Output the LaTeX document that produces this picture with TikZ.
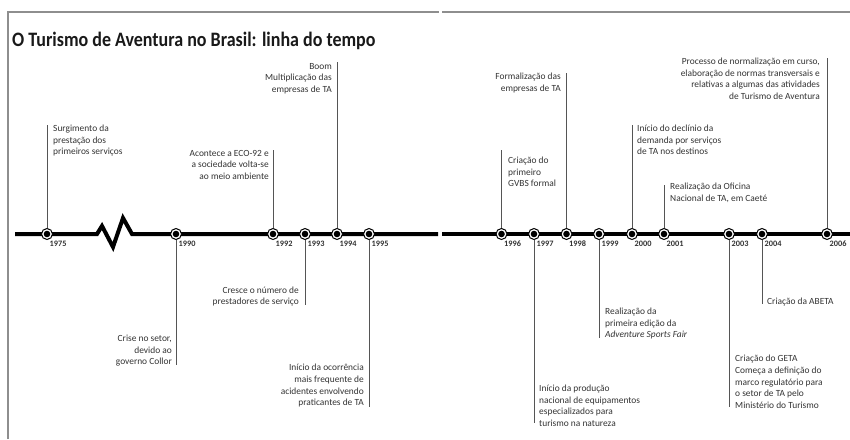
\documentclass[tikz,border=0pt]{standalone}
\usepackage{fontspec}
\setmainfont{Carlito}
\usetikzlibrary{calc}
\definecolor{txt}{HTML}{333333}
\definecolor{lead}{HTML}{555555}
\definecolor{framec}{HTML}{8E8E8E}
\begin{document}
\begin{tikzpicture}[x=1pt,y=-1pt,
  lbl/.style={font=\fontsize{9.4}{11.6}\selectfont, text=txt, inner sep=0pt, align=#1},
  yearlbl/.style={font=\fontsize{8.3}{9}\selectfont\bfseries, text=txt, inner sep=0pt, anchor=base west},
  marker/.style={circle, draw=black, line width=1pt, fill=white, minimum size=11pt, inner sep=0pt,
    path picture={\fill[black] (path picture bounding box.center) circle (3.3pt);}},
  leader/.style={draw=lead, line width=0.8pt},
  tline/.style={draw=black, line width=4pt, line join=miter},
  framel/.style={draw=framec, line width=1.2pt}]
\useasboundingbox (0,0) rectangle (850,439);
% frame
\draw[framel] (8,439) -- (8,12) -- (439,12);
\draw[framel] (442,12) -- (850,12);
% title
\node[anchor=base west, inner sep=0pt, font=\fontsize{20.5}{21}\selectfont\bfseries, text=black!90] (title) at (12,46) {\scalebox{0.877}[1]{O Turismo de Aventura no Brasil: linha do tempo}};
% timeline
\draw[tline] (15,234) -- (97,234) -- (102,226) -- (113,247) -- (123,218) -- (132,234) -- (438,234);
\draw[tline] (442,234) -- (850,234);
% markers and years
\foreach \yr/\xx in {1975/47,1990/176,1992/273,1993/305,1994/337,1995/369,1996/501.5,1997/534,1998/566.5,1999/599,2000/632,2001/664,2003/729,2004/762,2006/827}{
  \node[marker] (m\yr) at (\xx,234) {};
  \node[yearlbl] (y\yr) at (\xx+2.5,246) {\yr};
}
% leader end points
\coordinate (e1975) at (47,125);
\coordinate (e1990) at (176,365);
\coordinate (e1992) at (273,150);
\coordinate (e1993) at (305,305);
\coordinate (e1994) at (337,62);
\coordinate (e1995) at (369,407);
\coordinate (e1996) at (501.5,150);
\coordinate (e1997) at (534,423);
\coordinate (e1998) at (566.5,73);
\coordinate (e1999) at (599,338);
\coordinate (e2000) at (632,125);
\coordinate (e2001) at (664,185);
\coordinate (e2003) at (729,407);
\coordinate (e2004) at (762,304);
\coordinate (e2006) at (827,58);
\foreach \yr in {1975,1990,1992,1993,1994,1995,1996,1997,1998,1999,2000,2001,2003,2004,2006}{
  \draw[leader] (m\yr) -- (e\yr);
}
% texts
\node[lbl=left, anchor=north west] (t1975) at (53,125) {Surgimento da\\prestação dos\\primeiros serviços};
\node[lbl=right, anchor=south east] (t1990) at (172,366.5) {Crise no setor,\\devido ao\\governo Collor};
\node[lbl=right, anchor=north east] (t1992) at (269,150) {Acontece a ECO-92 e\\a sociedade volta-se\\ao meio ambiente};
\node[lbl=right, anchor=south east] (t1993) at (299,306.5) {Cresce o número de\\prestadores de serviço};
\node[lbl=right, anchor=north east] (t1994) at (332,63) {Boom\\Multiplicação das\\empresas de TA};
\node[lbl=right, anchor=south east] (t1995) at (364,407.5) {Início da ocorrência\\mais frequente de\\acidentes envolvendo\\praticantes de TA};
\node[lbl=left, anchor=north west] (t1996) at (508,157) {Criação do\\primeiro\\GVBS formal};
\node[lbl=left, anchor=south west] (t1997) at (539,426.5) {Início da produção\\nacional de equipamentos\\especializados para\\turismo na natureza};
\node[lbl=right, anchor=north east] (t1998) at (561,73) {Formalização das\\empresas de TA};
\node[lbl=left, anchor=south west] (t1999) at (605,339.5) {Realização da\\primeira edição da\\\textit{Adventure Sports Fair}};
\node[lbl=left, anchor=north west] (t2000) at (637,125) {Início do declínio da\\demanda por serviços\\de TA nos destinos};
\node[lbl=left, anchor=north west] (t2001) at (670,183) {Realização da Oficina\\Nacional de TA, em Caeté};
\node[lbl=left, anchor=south west] (t2003) at (735,408.5) {Criação do GETA\\Começa a definição do\\marco regulatório para\\o setor de TA pelo\\Ministério do Turismo};
\node[lbl=left, anchor=south west] (t2004) at (767,306.5) {Criação da ABETA};
\node[lbl=right, anchor=north east] (t2006) at (820,58) {Processo de normalização em curso,\\elaboração de normas transversais e\\relativas a algumas das atividades\\de Turismo de Aventura};
\end{tikzpicture}
\end{document}
